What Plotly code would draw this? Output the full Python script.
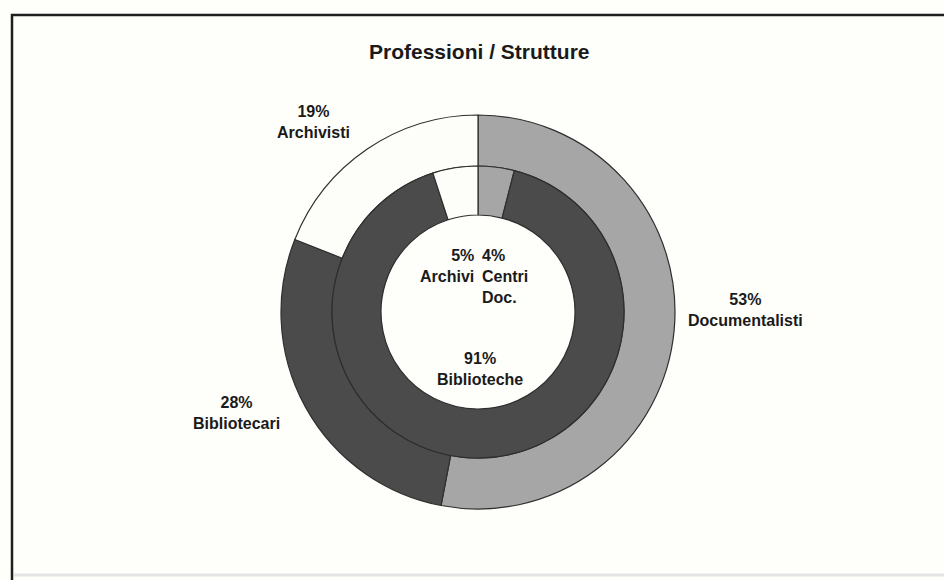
import plotly.graph_objects as go

# Outer ring: professions (%)
prof_labels = ["Documentalisti", "Bibliotecari", "Archivisti"]
prof_values = [53, 28, 19]

# Inner ring: structures (%)
strut_labels = ["Centri<br>Doc.", "Biblioteche", "Archivi"]
strut_values = [4, 91, 5]

title_text = "Professioni / Strutture"

W, H = 944, 580
colors = ["#a6a6a6", "#4b4b4b", "#fdfdf9"]
edge = dict(color="#2e2e2e", width=1.2)


def px_x(x):
    return x / W


def px_y(y):
    return 1 - y / H


def box(cx, cy, r):
    return dict(x=[px_x(cx - r), px_x(cx + r)], y=[px_y(cy + r), px_y(cy - r)])


CX, CY = 478, 312
R_OUT, R_MID, R_IN = 197, 146, 97

fig = go.Figure()

fig.add_trace(go.Pie(
    labels=prof_labels, values=prof_values, sort=False, direction="clockwise",
    rotation=0, hole=R_MID / R_OUT, domain=box(CX, CY, R_OUT),
    marker=dict(colors=colors, line=edge), textinfo="none", hoverinfo="label+percent",
))
fig.add_trace(go.Pie(
    labels=strut_labels, values=strut_values, sort=False, direction="clockwise",
    rotation=0, hole=R_IN / R_MID, domain=box(CX, CY, R_MID),
    marker=dict(colors=colors, line=edge), textinfo="none", hoverinfo="label+percent",
))

font = dict(family="Liberation Sans, Arial, sans-serif", size=16, color="#1a1a1a")

# label anchor points (pixel coords) and alignment for each slice label
outer_pos = [(745, 310, "center"), (236, 413, "center"), (313, 122, "center")]
inner_pos = [(480, 276, "left"), (480, 369, "center"), (476, 266, "right")]

annotations = []
for labels, values, pos in ((prof_labels, prof_values, outer_pos),
                            (strut_labels, strut_values, inner_pos)):
    for lab, val, (x, y, al) in zip(labels, values, pos):
        annotations.append(dict(
            x=px_x(x), y=px_y(y), xref="paper", yref="paper",
            text=f"<b>{val}%<br>{lab}</b>", showarrow=False,
            xanchor=al, yanchor="middle", align=al, font=font,
        ))

annotations.append(dict(
    x=px_x(479), y=px_y(51), xref="paper", yref="paper", text=f"<b>{title_text}</b>",
    showarrow=False, xanchor="center", yanchor="middle",
    font=dict(family="Liberation Sans, Arial, sans-serif", size=21, color="#1a1a1a"),
))

shapes = [
    # frame around the chart (runs past the right and bottom edges)
    dict(type="rect", xref="paper", yref="paper", x0=px_x(12), y0=-0.05, x1=1.05,
         y1=px_y(15), line=dict(color="#1e1e1e", width=2.5), fillcolor="rgba(0,0,0,0)",
         layer="above"),
    dict(type="line", xref="paper", yref="paper", x0=px_x(14), x1=1.0,
         y0=px_y(575), y1=px_y(575), line=dict(color="#e4e4e4", width=3)),
]

fig.update_layout(
    width=W, height=H, margin=dict(l=0, r=0, t=0, b=0),
    paper_bgcolor="#fefefb", plot_bgcolor="#fefefb",
    showlegend=False, annotations=annotations, shapes=shapes,
)

fig.write_html("out.html")
